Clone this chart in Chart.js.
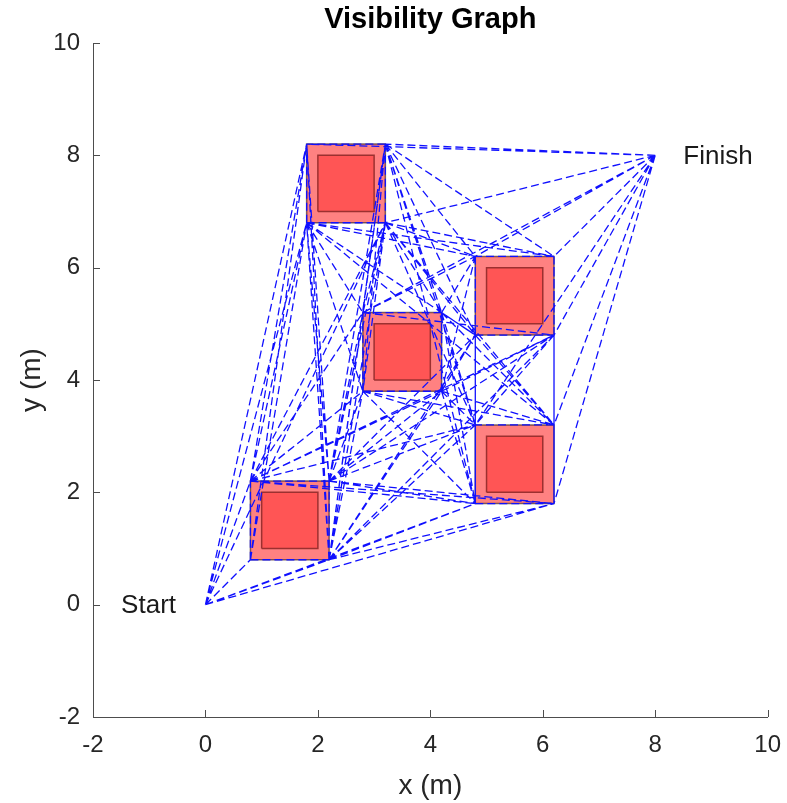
<!DOCTYPE html>
<html>
<head>
<meta charset="utf-8">
<script src="https://cdn.jsdelivr.net/npm/chart.js@4.4.1/dist/chart.umd.min.js"></script>
<style>
  html, body { margin: 0; padding: 0; background: #fff; }
  #wrap { width: 787px; height: 803px; }
</style>
</head>
<body>
<div id="wrap"><canvas id="chart" width="787" height="803"></canvas></div>
<script>
// graph nodes: start, finish and the corners of the inflated obstacles
const nodeNames = ["S", "F",
    "A1", "A2", "A3", "A4",
    "B1", "B2", "B3", "B4",
    "C1", "C2", "C3", "C4",
    "D1", "D2", "D3", "D4",
    "E1", "E2", "E3", "E4"];
const nodeX = [0, 8,
    0.8, 2.2, 2.2, 0.8,
    1.8, 3.2, 3.2, 1.8,
    2.8, 4.2, 4.2, 2.8,
    4.8, 6.2, 6.2, 4.8,
    4.8, 6.2, 6.2, 4.8];
const nodeY = [0, 8,
    0.8, 0.8, 2.2, 2.2,
    6.8, 6.8, 8.2, 8.2,
    3.8, 3.8, 5.2, 5.2,
    4.8, 4.8, 6.2, 6.2,
    1.8, 1.8, 3.2, 3.2];

// obstacles (lower-left corner), side length and safety margin
const obstacleX = [1, 2, 3, 5, 5];
const obstacleY = [1, 7, 4, 5, 2];
const obstacleSize = 1;
const obstacleMargin = 0.2;

// visible node pairs
const edges = [
    "S-A1", "S-A2", "S-A4", "S-B1", "S-B2", "S-B4", "S-E1", "S-E2",
    "F-B2", "F-B3", "F-B4", "F-C4", "F-D2", "F-D3", "F-D4", "F-E2", "F-E3", "F-E4",
    "A1-A2", "A1-A4", "A1-B1", "A1-B4",
    "A2-A3", "A2-B1", "A2-B2", "A2-B3", "A2-B4", "A2-C1", "A2-C2", "A2-C4", "A2-D1", "A2-D2", "A2-E1", "A2-E2", "A2-E4",
    "A3-A4", "A3-B1", "A3-B2", "A3-B3", "A3-B4", "A3-C1", "A3-C2", "A3-C4", "A3-D1", "A3-D2", "A3-E1", "A3-E2", "A3-E4",
    "A4-B1", "A4-B2", "A4-B4", "A4-C1", "A4-C2", "A4-C4", "A4-D2", "A4-E1", "A4-E2", "A4-E4",
    "B1-B2", "B1-B4", "B1-C1", "B1-C3", "B1-C4", "B1-D1", "B1-D3", "B1-D4", "B1-E3",
    "B2-B3", "B2-C1", "B2-C3", "B2-C4", "B2-D1", "B2-D3", "B2-D4", "B2-E3", "B2-E4",
    "B3-B4", "B3-C1", "B3-C3", "B3-C4", "B3-D1", "B3-D3", "B3-D4", "B3-E1", "B3-E4",
    "C1-C2", "C1-C4", "C1-E1", "C1-E3", "C1-E4",
    "C2-C3", "C2-D1", "C2-D2", "C2-D4", "C2-E1", "C2-E3", "C2-E4",
    "C3-C4", "C3-D1", "C3-D4", "C3-E1", "C3-E3", "C3-E4",
    "C4-D2", "C4-D4",
    "D1-D2", "D1-D4", "D1-E1", "D1-E3", "D1-E4",
    "D2-D3", "D2-E2", "D2-E3", "D2-E4",
    "D3-D4", "D3-E2", "D3-E3",
    "D4-E1", "D4-E4",
    "E1-E2", "E1-E4", "E2-E3", "E3-E4"
];

const xTicks = [-2, 0, 2, 4, 6, 8, 10];
const yTicks = [-2, 0, 2, 4, 6, 8, 10];

const noteText = ["Start", "Finish"];
const noteX = [-1.5, 8.5];
const noteY = [0, 8];

function node(name) {
    const i = nodeNames.indexOf(name);
    return { x: nodeX[i], y: nodeY[i] };
}

function square(x0, y0, size) {
    return [
        { x: x0, y: y0 }, { x: x0 + size, y: y0 },
        { x: x0 + size, y: y0 + size }, { x: x0, y: y0 + size },
        { x: x0, y: y0 }
    ];
}

// all edges in one line dataset, broken by empty points
const edgePoints = [];
edges.forEach(e => {
    const [a, b] = e.split("-");
    edgePoints.push(node(a), node(b), { x: NaN, y: NaN });
});

const datasets = [{
    data: edgePoints,
    showLine: true,
    spanGaps: false,
    borderColor: "#1010ff",
    backgroundColor: "#1010ff",
    borderWidth: 1.3,
    borderDash: [8, 4],
    pointRadius: 0,
    fill: false,
    order: 1
}];

obstacleX.forEach((ox, i) => {
    const oy = obstacleY[i];
    datasets.push({
        data: square(ox, oy, obstacleSize),
        showLine: true,
        borderColor: "#9c3030",
        borderWidth: 1.5,
        backgroundColor: "#ff5555",
        fill: "shape",
        pointRadius: 0,
        order: 2
    });
    datasets.push({
        data: square(ox - obstacleMargin, oy - obstacleMargin, obstacleSize + 2 * obstacleMargin),
        showLine: true,
        borderColor: "rgba(70,40,40,0.7)",
        borderWidth: 1.5,
        backgroundColor: "#ff8181",
        fill: "shape",
        pointRadius: 0,
        order: 3
    });
});

const axisColor = "#4d4d4d";
const textColor = "#262626";
const fontFamily = "'Liberation Sans', Arial, sans-serif";

const decorations = {
    id: "decorations",
    afterDraw(chart) {
        const { ctx, chartArea, scales } = chart;
        const xs = scales.x, ys = scales.y;
        ctx.save();
        // inward ticks
        ctx.strokeStyle = axisColor;
        ctx.lineWidth = 1;
        ctx.beginPath();
        xTicks.forEach(v => {
            const px = Math.round(xs.getPixelForValue(v)) + 0.5;
            ctx.moveTo(px, chartArea.bottom);
            ctx.lineTo(px, chartArea.bottom - 7);
        });
        yTicks.forEach(v => {
            const py = Math.round(ys.getPixelForValue(v)) + 0.5;
            ctx.moveTo(chartArea.left, py);
            ctx.lineTo(chartArea.left + 7, py);
        });
        ctx.stroke();

        const cx = (chartArea.left + chartArea.right) / 2;
        ctx.fillStyle = "#000";
        ctx.textAlign = "center";
        ctx.textBaseline = "middle";
        ctx.font = "bold 29px " + fontFamily;
        ctx.fillText("Visibility Graph", cx, 20);

        ctx.fillStyle = textColor;
        ctx.font = "28px " + fontFamily;
        ctx.fillText("x (m)", cx, 786);
        ctx.save();
        ctx.translate(32, (chartArea.top + chartArea.bottom) / 2);
        ctx.rotate(-Math.PI / 2);
        ctx.fillText("y (m)", 0, 0);
        ctx.restore();

        ctx.fillStyle = "#1a1a1a";
        ctx.textAlign = "left";
        ctx.font = "26px " + fontFamily;
        noteText.forEach((t, i) => {
            ctx.fillText(t, xs.getPixelForValue(noteX[i]), ys.getPixelForValue(noteY[i]) + 1);
        });
        ctx.restore();
    }
};

const tickFont = { family: fontFamily, size: 24 };

new Chart(document.getElementById("chart"), {
    type: "scatter",
    data: { datasets: datasets },
    options: {
        responsive: false,
        animation: false,
        layout: { padding: { left: 0, right: 18, top: 43, bottom: 0 } },
        plugins: {
            legend: { display: false },
            tooltip: { enabled: false },
            title: { display: false }
        },
        scales: {
            x: {
                type: "linear",
                min: -2,
                max: 10,
                afterFit(scale) { scale.height = 86; },
                afterBuildTicks(scale) { scale.ticks = xTicks.map(v => ({ value: v })); },
                ticks: { color: textColor, font: tickFont, padding: 6, maxRotation: 0 },
                grid: { display: false },
                border: { display: true, color: axisColor, width: 1 }
            },
            y: {
                type: "linear",
                min: -2,
                max: 10,
                afterFit(scale) { scale.width = 93; },
                afterBuildTicks(scale) { scale.ticks = yTicks.map(v => ({ value: v })); },
                ticks: { color: textColor, font: tickFont, padding: 5 },
                grid: { display: false },
                border: { display: true, color: axisColor, width: 1 }
            }
        }
    },
    plugins: [decorations]
});
</script>
</body>
</html>
